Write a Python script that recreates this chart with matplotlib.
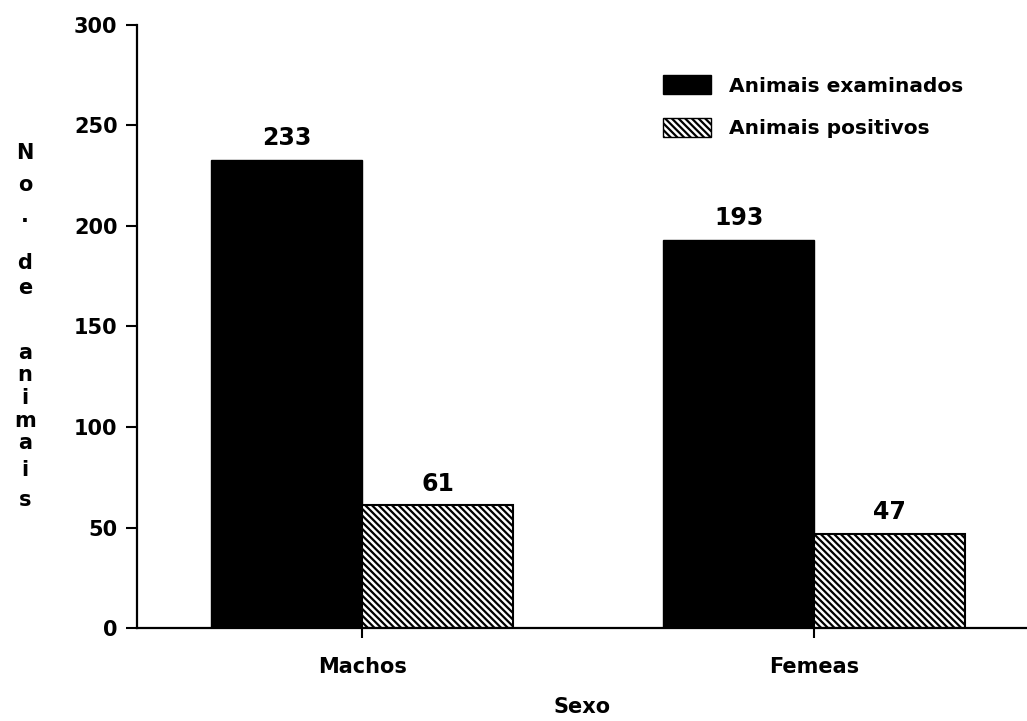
import numpy as np
import matplotlib
matplotlib.use('Agg')
import matplotlib.pyplot as plt
from matplotlib.patches import Patch

# datos
categorias = ['Machos', 'Femeas']
examinados = [233, 193]
positivos = [61, 47]
yticks = [0, 50, 100, 150, 200, 250, 300]
etiqueta_y = ['N', 'o', '.', 'd', 'e', 'a', 'n', 'i', 'm', 'a', 'i', 's']
pos_etiqueta_y = [153, 185, 216, 263, 288, 353, 375, 398, 421, 443, 470, 500]

plt.rcParams['font.family'] = 'DejaVu Sans'
plt.rcParams['font.weight'] = 'bold'
plt.rcParams['hatch.linewidth'] = 1.6
plt.rcParams['hatch.color'] = 'black'

fig = plt.figure(figsize=(10.27, 7.21), dpi=100)
ax = fig.add_axes([137 / 1027, 1 - 628 / 721, 1 - 137 / 1027, (628 - 25) / 721])

x = np.arange(len(categorias))
w = 0.334
b1 = ax.bar(x - w / 2, examinados, w, color='black', edgecolor='black',
            label='Animais examinados')
b2 = ax.bar(x + w / 2, positivos, w, color='white', edgecolor='black',
            hatch='\\\\\\\\\\', linewidth=1.5, label='Animais positivos')

ax.bar_label(b1, padding=7, fontsize=17, fontweight='bold')
ax.bar_label(b2, padding=7, fontsize=17, fontweight='bold')

ax.set_xlim(-0.498, 1.471)
ax.set_ylim(0, 300)
ax.set_yticks(yticks)
ax.set_xticks(x)
ax.set_xticklabels(categorias, fontsize=15, fontweight='bold')
ax.tick_params(axis='y', direction='out', length=8, width=1.5, pad=6, labelsize=15)
ax.tick_params(axis='x', direction='out', length=7, width=1.5, pad=14)

for s in ['top', 'right']:
    ax.spines[s].set_visible(False)
ax.spines['left'].set_linewidth(1.6)
ax.spines['bottom'].set_linewidth(1.6)

ax.set_xlabel('Sexo', fontsize=15, fontweight='bold', labelpad=14)

# etiqueta vertical con letras apiladas
for ch, py in zip(etiqueta_y, pos_etiqueta_y):
    fig.text(25 / 1027, 1 - py / 721, ch, ha='center', va='center',
             fontsize=15, fontweight='bold')

handles = [Patch(facecolor='black', edgecolor='black'),
           Patch(facecolor='white', edgecolor='black', hatch='\\\\\\\\\\')]
fig.legend(handles, ['Animais examinados', 'Animais positivos'],
           loc='upper left', bbox_to_anchor=(663 / 1027, 1 - 75 / 721),
           frameon=False, handlelength=2.4, handleheight=1.1,
           handletextpad=0.9, labelspacing=1.1, borderpad=0, borderaxespad=0,
           prop={'weight': 'bold', 'size': 14.5})

fig.savefig('out.png', dpi=100)
